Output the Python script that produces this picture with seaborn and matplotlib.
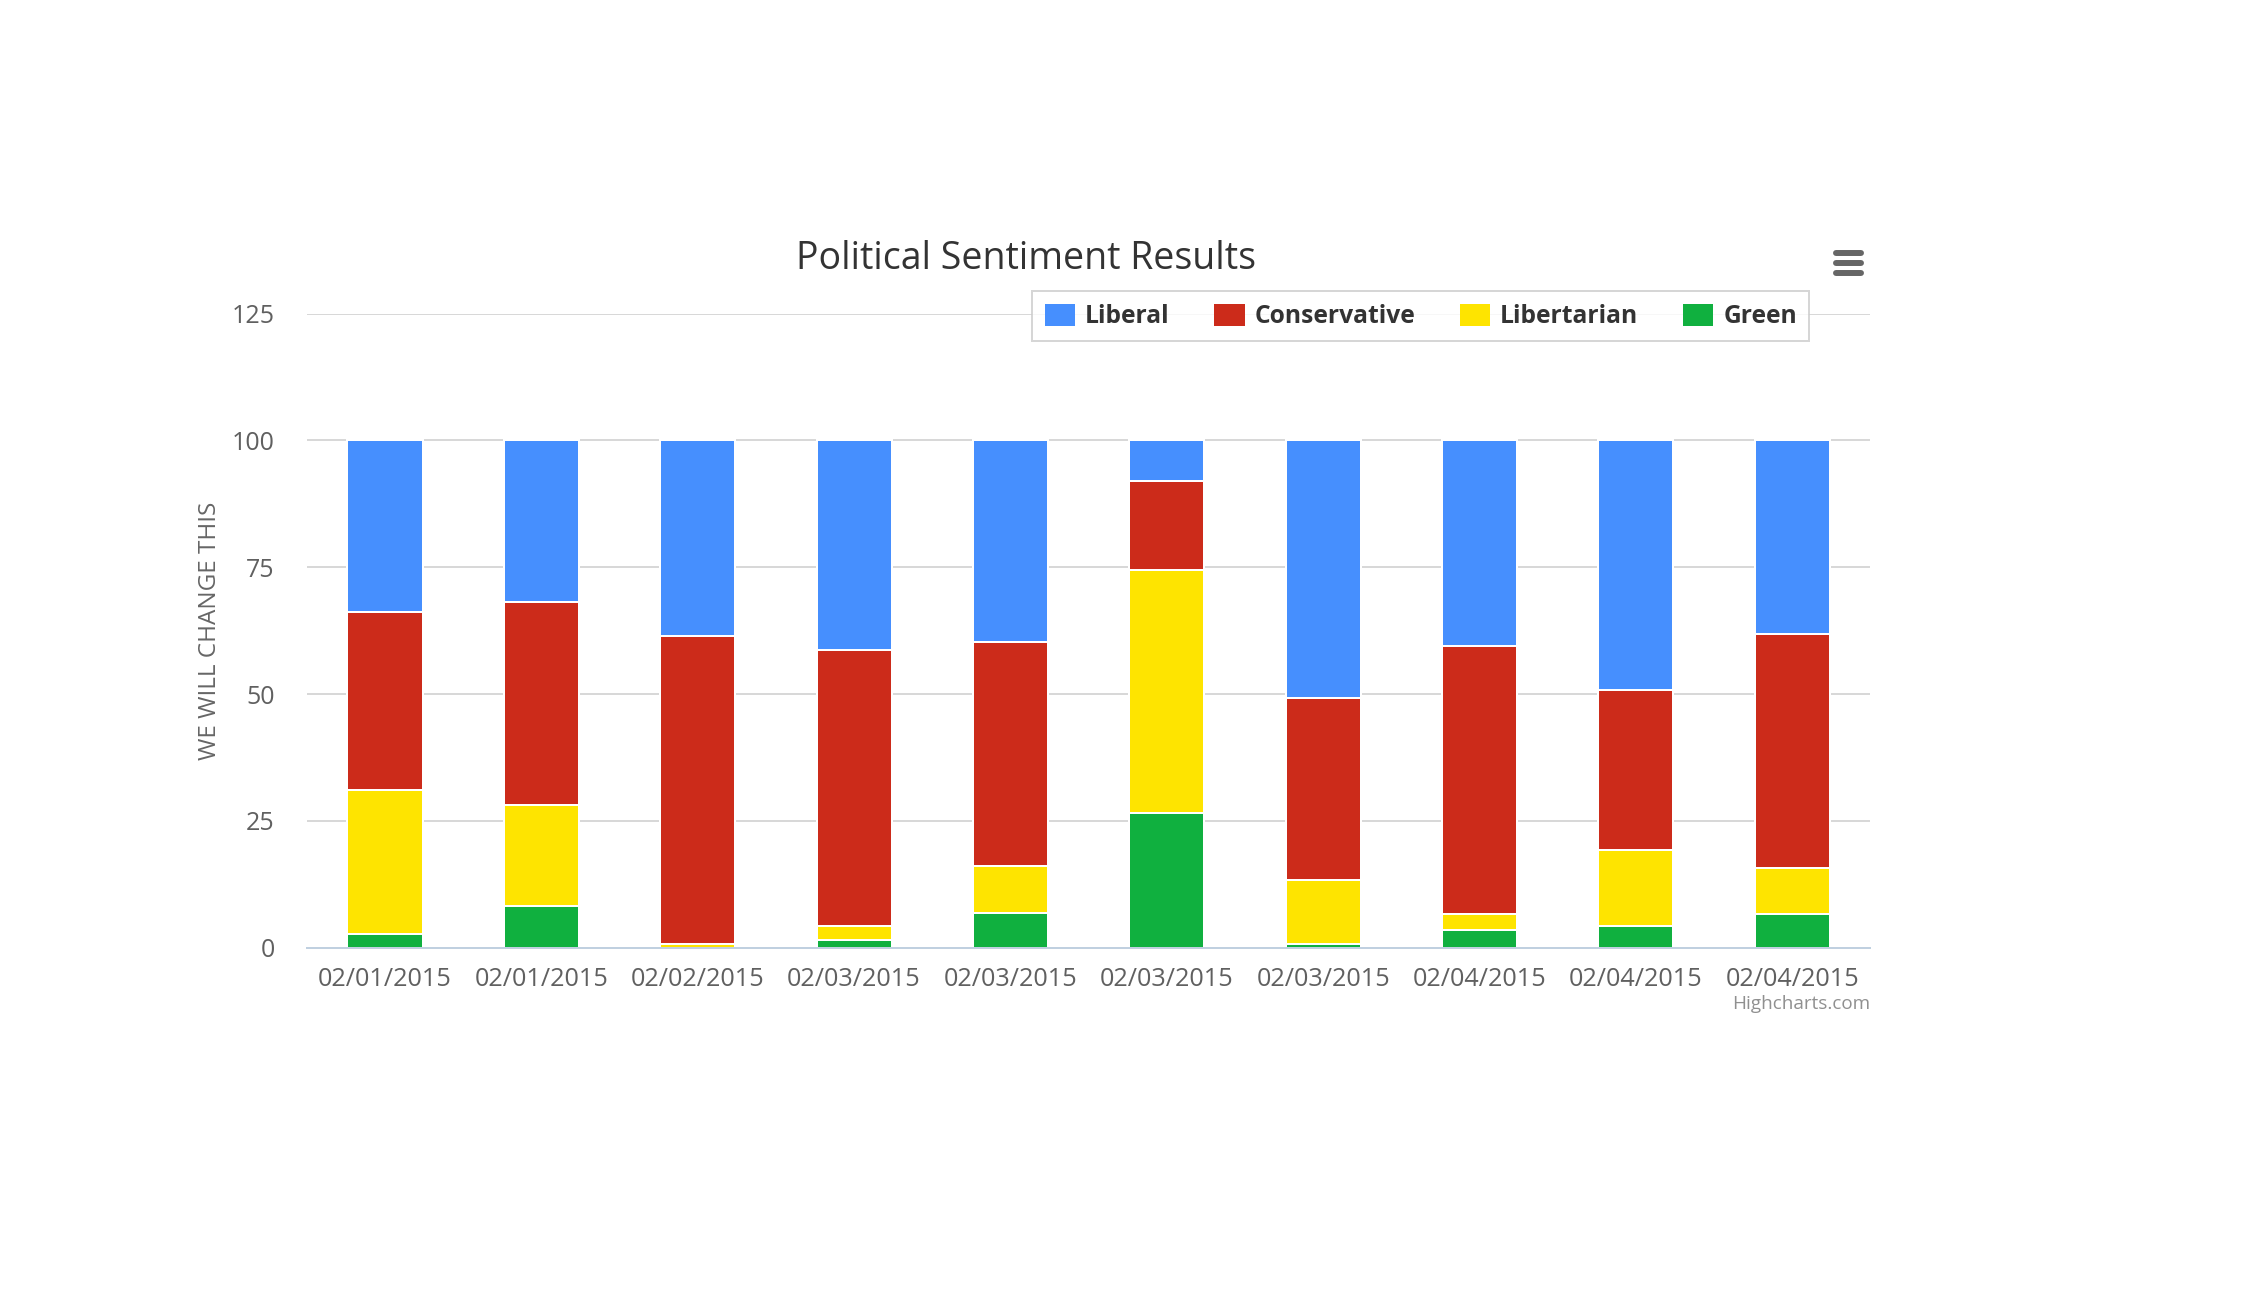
import numpy as np
import pandas as pd
import matplotlib
matplotlib.use('Agg')
import matplotlib.pyplot as plt
import seaborn as sns
from matplotlib.lines import Line2D
from matplotlib.patches import Patch

# values (percent of each bar)
dates = ['02/01/2015', '02/01/2015', '02/02/2015', '02/03/2015', '02/03/2015',
         '02/03/2015', '02/03/2015', '02/04/2015', '02/04/2015', '02/04/2015']
green = [2.6, 8.2, 0.0, 1.4, 6.9, 26.6, 0.6, 3.4, 4.2, 6.6]
libertarian = [28.4, 20.0, 0.7, 2.8, 9.1, 47.8, 12.7, 3.2, 15.1, 9.0]
conservative = [35.1, 39.9, 60.7, 54.4, 44.2, 17.7, 35.9, 52.8, 31.4, 46.2]
liberal = [33.9, 31.9, 38.6, 41.4, 39.8, 7.9, 50.8, 40.6, 49.3, 38.2]

series_names = ['Liberal', 'Conservative', 'Libertarian', 'Green']
colors = {'Liberal': '#468ffe', 'Conservative': '#cc2b1a',
          'Libertarian': '#fee400', 'Green': '#10b03f'}

df = pd.DataFrame({'pos': range(len(dates)), 'Green': green,
                   'Libertarian': libertarian, 'Conservative': conservative,
                   'Liberal': liberal})
# cumulative tops, stacked from the bottom: Green, Libertarian, Conservative, Liberal
df['Green_top'] = df['Green']
df['Libertarian_top'] = df['Green_top'] + df['Libertarian']
df['Conservative_top'] = df['Libertarian_top'] + df['Conservative']
df['Liberal_top'] = df['Conservative_top'] + df['Liberal']

sns.set_style('white')
plt.rcParams['font.family'] = ['Open Sans', 'DejaVu Sans']

fig = plt.figure(figsize=(22.46, 12.98), dpi=100)
ax = fig.add_axes([0.1366, 0.2700, 0.6962, 0.4883])

for name in series_names:
    sns.barplot(data=df, x='pos', y=name + '_top', color=colors[name],
                width=0.48, errorbar=None, saturation=1,
                edgecolor='white', linewidth=1.44, ax=ax, zorder=3)

ax.set_ylim(0, 125)
ax.set_xlim(-0.5, len(dates) - 0.5)
ax.set_yticks([0, 25, 50, 75, 100, 125])
ax.set_xticks(range(len(dates)))
ax.set_xticklabels(dates)
ax.set_xticks(np.arange(-0.5, len(dates), 1), minor=True)
ax.set_xlabel('')
ax.set_ylabel('WE WILL CHANGE THIS', fontsize=17.5, color='#666666', labelpad=0)
ax.yaxis.set_label_coords(-0.054, 0.5)

ax.grid(axis='y', color='#d8d8d8', linewidth=1.44, zorder=0)
ax.set_axisbelow(True)
for side in ['top', 'right', 'left']:
    ax.spines[side].set_visible(False)
ax.spines['bottom'].set_color('#c0d0e0')
ax.spines['bottom'].set_linewidth(1.44)
ax.spines['bottom'].set_zorder(4)

ax.tick_params(axis='x', which='major', length=0, pad=14, labelsize=18.2, labelcolor='#606060')
ax.tick_params(axis='x', which='minor', length=13, width=1.44, color='#c0d0e0', direction='out')
ax.tick_params(axis='y', length=0, pad=23, labelsize=18, labelcolor='#606060')

fig.text(0.4568, 0.8005, 'Political Sentiment Results', ha='center', va='center',
         fontsize=27, color='#333333')

handles = [Patch(facecolor=colors[n], edgecolor='none', label=n) for n in series_names]
leg = ax.legend(handles=handles, ncol=4, loc='center', bbox_to_anchor=(0.6326, 0.7562),
                bbox_transform=fig.transFigure, frameon=True, fancybox=False,
                prop={'size': 17.7, 'weight': 'bold'}, handlelength=1.25, handleheight=1.0,
                handletextpad=0.4, columnspacing=1.8, borderpad=0.5, borderaxespad=0)
leg.get_frame().set_edgecolor('#cccccc')
leg.get_frame().set_linewidth(1.44)
for t in leg.get_texts():
    t.set_color('#333333')

fig.text(0.8328, 0.2268, 'Highcharts.com', ha='right', va='center',
         fontsize=13.6, color='#909090')

# export menu icon
for yy in [252.7, 262.7, 272.7]:
    fig.add_artist(Line2D([1836 / 2246, 1861 / 2246], [1 - yy / 1298, 1 - yy / 1298],
                          transform=fig.transFigure, color='#666666', linewidth=4.3,
                          solid_capstyle='round'))

fig.savefig('out.png', dpi=100)
